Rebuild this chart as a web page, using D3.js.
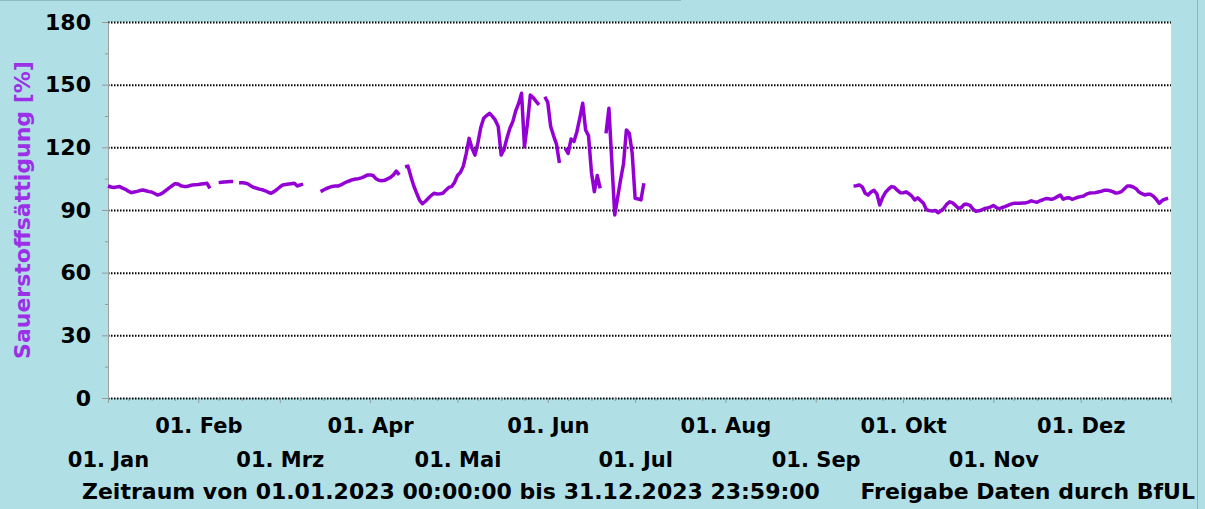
<!DOCTYPE html>
<html>
<head>
<meta charset="utf-8">
<script src="https://cdn.jsdelivr.net/npm/d3@7"></script>
<style>
  body { margin: 0; background: #b0e0e6; overflow: hidden; }
  svg text { font-family: "DejaVu Sans", sans-serif; font-weight: bold; }
</style>
</head>
<body>
<div id="chart"></div>
<script>
// daily oxygen saturation values, 2023 (null = no data)
const startDate = "2023-01-01";
const endDate = "2024-01-01";
const saturation = [
  101.5, 101.0, 100.8, 101.0, 101.2, 100.5, 99.9, 99.0, 98.3, 98.6,
  98.9, 99.3, 99.6, 99.2, 98.8, 98.6, 97.9, 97.2, 97.6, 98.4,
  99.5, 100.6, 101.6, 102.6, 102.5, 101.6, 101.3, 101.2, 101.6, 102.0,
  102.1, 102.2, 102.4, 102.6, 102.8, 100.4, null, null, 103.1, 103.3,
  103.4, 103.5, 103.6, 103.6, null, 103.1, 103.0, 102.9, 102.5, 101.6,
  100.8, 100.4, 100.0, 99.7, 99.2, 98.5, 98.0, 98.8, 99.8, 101.0,
  102.0, 102.2, 102.4, 102.6, 102.8, 101.5, 102.0, 102.4, null, null,
  null, null, null, 98.8, 99.6, 100.3, 100.8, 101.3, 101.5, 101.5,
  102.0, 102.8, 103.5, 104.0, 104.5, 104.8, 105.0, 105.4, 106.0, 106.7,
  106.8, 106.5, 105.0, 104.2, 104.0, 104.2, 104.9, 105.6, 106.8, 108.6,
  106.8, null, 110.7, 111.0, 106.0, 101.5, 98.0, 94.6, 93.0, 94.2,
  95.6, 97.0, 98.0, 97.7, 97.8, 98.0, 99.5, 100.8, 101.2, 103.2,
  106.5, 108.0, 111.0, 117.0, 124.3, 119.5, 116.3, 122.0, 129.5, 133.9,
  135.2, 136.3, 134.8, 133.0, 129.9, 116.3, 119.0, 124.5, 129.1, 132.3,
  137.5, 141.0, 145.9, 120.3, 131.0, 145.0, 143.8, 142.0, 140.3, null,
  144.2, 141.5, 130.0, 125.5, 121.5, 112.5, null, 119.5, 117.1, 124.0,
  122.8, 127.5, 134.0, 141.1, 128.3, 125.5, 108.0, 98.8, 106.5, 100.4,
  null, 126.7, 138.7, 113.0, 87.6, 96.0, 104.5, 112.0, 128.3, 126.7,
  117.0, 95.6, 95.3, 94.8, 102.8, null, null, null, null, null,
  null, null, null, null, null, null, null, null, null, null,
  null, null, null, null, null, null, null, null, null, null,
  null, null, null, null, null, null, null, null, null, null,
  null, null, null, null, null, null, null, null, null, null,
  null, null, null, null, null, null, null, null, null, null,
  null, null, null, null, null, null, null, null, null, null,
  null, null, null, null, null, null, 101.5, 101.6, 102.0, 101.0,
  98.0, 97.2, 98.6, 99.4, 97.7, 92.4, 96.0, 98.5, 100.0, 101.2,
  100.9, 99.5, 98.3, 98.2, 98.7, 97.8, 96.7, 94.8, 95.8, 94.6,
  93.2, 90.2, 89.7, 89.5, 89.8, 88.7, 89.6, 90.8, 92.8, 93.9,
  93.4, 92.2, 90.8, 91.2, 92.7, 92.7, 92.2, 90.4, 89.4, 89.6,
  90.0, 90.7, 91.0, 91.4, 92.2, 91.2, 90.6, 91.2, 91.6, 92.2,
  92.8, 93.2, 93.2, 93.2, 93.3, 93.4, 93.8, 94.4, 94.0, 93.7,
  94.4, 94.9, 95.5, 95.4, 95.1, 95.6, 96.4, 97.2, 95.2, 95.7,
  95.9, 95.1, 95.6, 96.1, 96.4, 96.7, 97.6, 98.1, 98.2, 98.3,
  98.6, 98.9, 99.4, 99.5, 99.2, 98.8, 98.1, 98.3, 98.8, 100.2,
  101.5, 101.5, 101.0, 100.2, 98.6, 97.8, 97.2, 97.5, 97.5, 96.5,
  95.0, 93.2, 94.6, 95.2, 95.6
];
const yTicks = [0, 30, 60, 90, 120, 150, 180];
const monthLabels = ["01. Jan", "01. Feb", "01. Mrz", "01. Apr", "01. Mai", "01. Jun",
                     "01. Jul", "01. Aug", "01. Sep", "01. Okt", "01. Nov", "01. Dez"];
const yTitle = "Sauerstoffsättigung [%]";
const footerLeft = "Zeitraum von 01.01.2023 00:00:00 bis 31.12.2023 23:59:00";
const footerRight = "Freigabe Daten durch BfUL";

// set the dimensions and margins of the graph
const W = 1205, H = 509;
const margin = {top: 22, right: 34, bottom: 111, left: 108},
      width = W - margin.left - margin.right,
      height = H - margin.top - margin.bottom;

const root = d3.select("#chart")
  .append("svg")
    .attr("width", W)
    .attr("height", H);

// frame lines
root.append("line")
  .attr("x1", 0).attr("x2", 681).attr("y1", 0.5).attr("y2", 0.5)
  .attr("stroke", "#8fbac6");
root.append("line")
  .attr("x1", 1197.5).attr("x2", 1197.5).attr("y1", 0).attr("y2", H)
  .attr("stroke", "#8fb3cc");

const svg = root.append("g")
  .attr("transform", `translate(${margin.left},${margin.top})`);

const parse = d3.timeParse("%Y-%m-%d");
const data = saturation.map((v, i) => ({date: d3.timeDay.offset(parse(startDate), i), value: v}));

const x = d3.scaleTime()
  .domain([parse(startDate), parse(endDate)])
  .range([0, width]);
const y = d3.scaleLinear()
  .domain([0, 180])
  .range([height, 0]);

// plot area
svg.append("rect")
  .attr("width", width).attr("height", height)
  .attr("fill", "#fff");
svg.append("line")
  .attr("x1", width + 0.5).attr("x2", width + 0.5).attr("y1", 0).attr("y2", height)
  .attr("stroke", "#d4d4d4");

// gridlines
const grid = svg.append("g")
  .call(d3.axisLeft(y).tickValues(yTicks).tickSize(-width).tickFormat(""));
grid.select(".domain").remove();
grid.selectAll("line")
  .attr("stroke", "#000")
  .attr("stroke-width", 2)
  .attr("stroke-dasharray", "1.5,1.5");

// minor x ticks
const xMinor = svg.append("g")
  .attr("transform", `translate(0,${height})`)
  .call(d3.axisBottom(x)
    .ticks(d3.timeDay.filter(d => [8, 16, 24].includes(d.getDate())))
    .tickSize(3).tickFormat(""));
xMinor.select(".domain").remove();
xMinor.selectAll("line").attr("stroke", "#999");

// X axis with two rows of labels
const xAxis = svg.append("g")
  .attr("transform", `translate(0,${height})`)
  .call(d3.axisBottom(x).ticks(d3.timeMonth).tickSize(5).tickFormat((d, i) => monthLabels[i]));
xAxis.select(".domain").remove();
xAxis.selectAll("line").attr("stroke", "#999");
xAxis.selectAll("text")
  .attr("dy", 0)
  .attr("y", (d, i) => i % 2 ? 35 : 69)
  .attr("fill", "#000")
  .style("font-size", "21px");

// Y axis
const yMinor = svg.append("g")
  .call(d3.axisLeft(y).tickValues(d3.range(15, 180, 30)).tickSize(3).tickFormat(""));
yMinor.select(".domain").remove();
yMinor.selectAll("line").attr("stroke", "#999");

const yAxis = svg.append("g")
  .call(d3.axisLeft(y).tickValues(yTicks).tickSize(6).tickSizeOuter(0).tickPadding(11));
yAxis.select(".domain").attr("stroke", "#a0a0a0");
yAxis.selectAll("line").attr("stroke", "#999");
yAxis.selectAll("text")
  .attr("fill", "#000")
  .style("font-size", "22px");

// the line
svg.append("path")
  .datum(data)
  .attr("fill", "none")
  .attr("stroke", "#9400d3")
  .attr("stroke-width", 3.5)
  .attr("stroke-linejoin", "round")
  .attr("d", d3.line()
    .defined(d => d.value !== null)
    .x(d => x(d.date))
    .y(d => y(d.value)));

// y title
root.append("text")
  .attr("transform", "translate(22,210) rotate(-90)")
  .attr("text-anchor", "middle")
  .attr("dominant-baseline", "central")
  .attr("fill", "#9b30e6")
  .style("font-size", "22px")
  .text(yTitle);

// footer
root.append("text")
  .attr("x", 82).attr("y", 499)
  .attr("fill", "#000")
  .style("font-size", "22px")
  .text(footerLeft);
root.append("text")
  .attr("x", 1195).attr("y", 499)
  .attr("text-anchor", "end")
  .attr("fill", "#000")
  .style("font-size", "22px")
  .text(footerRight);
</script>
</body>
</html>
